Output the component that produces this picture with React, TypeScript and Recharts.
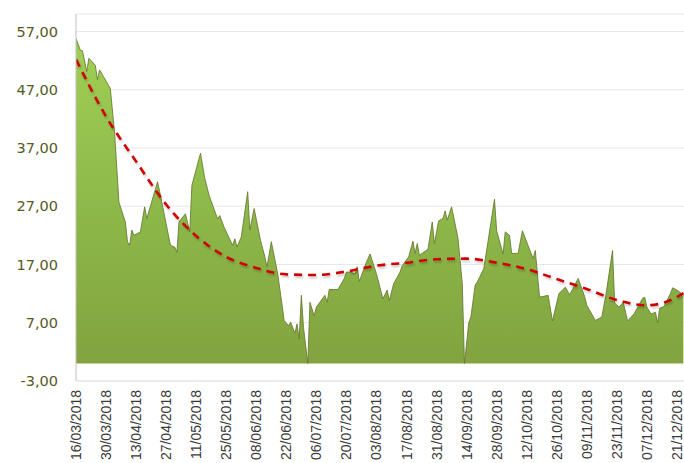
import React from 'react';
import {
  ComposedChart,
  Area,
  Line,
  XAxis,
  YAxis,
  CartesianGrid,
} from 'recharts';

// day offsets from 16/03/2018 and the values
const areaDays = [
  0, 2, 3, 5, 6, 9, 10, 11, 16, 18, 20, 23, 24, 25, 26, 27, 30, 32, 33, 38,
  39, 44, 46, 47, 48, 51, 53, 54, 58, 60, 62, 66, 67, 69, 73, 74, 75, 77, 80, 81,
  83, 86, 88, 89, 91, 94, 97, 99, 100, 102, 103, 104, 105, 106, 108, 109, 111, 112, 116, 117,
  118, 122, 125, 126, 128, 130, 131, 132, 135, 137, 140, 143, 145, 146, 148, 151, 152, 155, 157, 158,
  159, 160, 164, 166, 167, 169, 171, 172, 173, 175, 178, 180, 181, 183, 184, 186, 187, 190, 192, 195,
  196, 199, 200, 202, 203, 206, 208, 213, 214, 216, 220, 222, 225, 228, 230, 234, 237, 238, 242, 245,
  247, 250, 251, 253, 255, 257, 260, 264, 265, 266, 268, 270, 271, 272, 274, 277, 278, 280, 283,
];
const areaValues = [
  55.8, 53.8, 53.7, 50.1, 52.4, 51.2, 48.7, 50.4, 47.2, 39.5, 27.7, 24.3, 20.9, 20.3, 22.9, 22, 22.6, 26.9, 24.9, 31.2,
  29.5, 20.3, 20, 19.1, 24.3, 25.7, 22.6, 30.6, 36.1, 31.8, 28.9, 24.8, 25.4, 23.4, 20.3, 21.4, 20, 21.7, 29.5, 22.9,
  26.6, 21.1, 18.3, 16.6, 20.9, 15.4, 7.4, 6.5, 7.1, 5.2, 6.8, 4.2, 11.7, 6.2, 0, 10.5, 8.2, 9.7, 11.7, 10.5,
  12.7, 12.7, 14.6, 15.7, 15.7, 15.4, 16.6, 14.1, 17.1, 18.8, 15.4, 11.1, 12.6, 10.8, 13.7, 15.7, 16.8, 18.3, 21, 18.9,
  20.6, 18.6, 19.6, 24.3, 20.6, 24.5, 24.9, 26.2, 24.6, 26.9, 21.5, 13.7, 0, 7, 8, 13.5, 14, 16.3, 21, 28.2,
  22.8, 18.8, 22.6, 22, 18.9, 18.9, 22.8, 18, 19.4, 11.4, 11.7, 7.3, 12, 13.1, 11.8, 14.6, 11.5, 10, 7.4, 8,
  12, 19.4, 10.4, 9.7, 10.5, 7.3, 8.5, 11.2, 11.4, 9.7, 8.5, 8.8, 7, 9.5, 9.8, 12, 13, 12.6, 11.8,
];

const trendDays = [0, 14, 28, 42, 56, 70, 84, 98, 112, 126, 140, 154, 168, 182, 196, 210, 224, 238, 252, 266, 280, 283];
const trendValues = [52.2, 42.4, 34.7, 27.3, 21.9, 18.3, 16.4, 15.3, 15.2, 15.8, 16.8, 17.3, 17.9, 18, 17.3, 16.2, 14.5, 12.8, 10.9, 10, 11.4, 12.1];

const xTicks = [0, 14, 28, 42, 56, 70, 84, 98, 112, 126, 140, 154, 168, 182, 196, 210, 224, 238, 252, 266, 280];
const yTicks = [-3, 7, 17, 27, 37, 47, 57];

const areaData = areaDays.map((d, i) => ({ day: d, value: areaValues[i] }));
const trendData = trendDays.map((d, i) => ({ day: d, trend: trendValues[i] }));

const startDate = Date.UTC(2018, 2, 16);
const fmtDate = (d: number) => {
  const dt = new Date(startDate + d * 86400000);
  const dd = String(dt.getUTCDate()).padStart(2, '0');
  const mm = String(dt.getUTCMonth() + 1).padStart(2, '0');
  return `${dd}/${mm}/${dt.getUTCFullYear()}`;
};

const DateTick = ({ x, y, payload }: any) => {
  const ty = y + 1;
  return (
    <text
      x={x}
      y={ty}
      transform={`rotate(-90 ${x} ${ty})`}
      textAnchor="end"
      dy="0.36em"
      fill="#3a3a3a"
      fontSize={14}
      fontFamily="Liberation Sans, Arial, sans-serif"
    >
      {fmtDate(payload.value)}
    </text>
  );
};

export default function App() {
  return (
    <div style={{ position: 'absolute', left: 0, top: 0, background: '#fff' }}>
      <ComposedChart width={684} height={463} margin={{ top: 14, right: 0, bottom: 0, left: 0 }}>
        <defs>
          <linearGradient id="greenFill" x1="0" y1="0" x2="0" y2="1">
            <stop offset="0%" stopColor="#a0cf56" />
            <stop offset="50%" stopColor="#8dba49" />
            <stop offset="100%" stopColor="#82a340" />
          </linearGradient>
          <filter id="lineShadow" x="-5%" y="-20%" width="110%" height="140%">
            <feDropShadow dx="1" dy="2" stdDeviation="1.2" floodColor="#000" floodOpacity="0.22" />
          </filter>
        </defs>
        <CartesianGrid horizontal vertical={false} stroke="#e8e8e8" />
        <XAxis
          type="number"
          dataKey="day"
          domain={[0, 283.3]}
          allowDataOverflow
          ticks={xTicks}
          interval={0}
          tick={<DateTick />}
          tickLine={false}
          axisLine={{ stroke: '#e3e3e3' }}
          height={82}
        />
        <YAxis
          type="number"
          domain={[-3, 60]}
          allowDataOverflow
          ticks={yTicks}
          interval={0}
          width={76}
          tickLine={false}
          tickSize={0}
          tickMargin={18}
          axisLine={{ stroke: '#bfbfbf' }}
          tickFormatter={(v: number) => v.toFixed(2).replace('.', ',')}
          tick={{ fill: '#555a22', fontSize: 14.5, fontFamily: 'DejaVu Sans, Verdana, sans-serif' }}
        />
        <Area
          data={areaData}
          dataKey="value"
          type="linear"
          baseValue={0}
          fill="url(#greenFill)"
          fillOpacity={1}
          stroke="#66782f"
          strokeOpacity={0.85}
          strokeWidth={1}
          isAnimationActive={false}
          dot={false}
          activeDot={false}
        />
        <Line
          data={trendData}
          dataKey="trend"
          type="monotone"
          stroke="#d00000"
          strokeWidth={2.6}
          strokeDasharray="8 6"
          filter="url(#lineShadow)"
          dot={false}
          activeDot={false}
          isAnimationActive={false}
        />
      </ComposedChart>
    </div>
  );
}
